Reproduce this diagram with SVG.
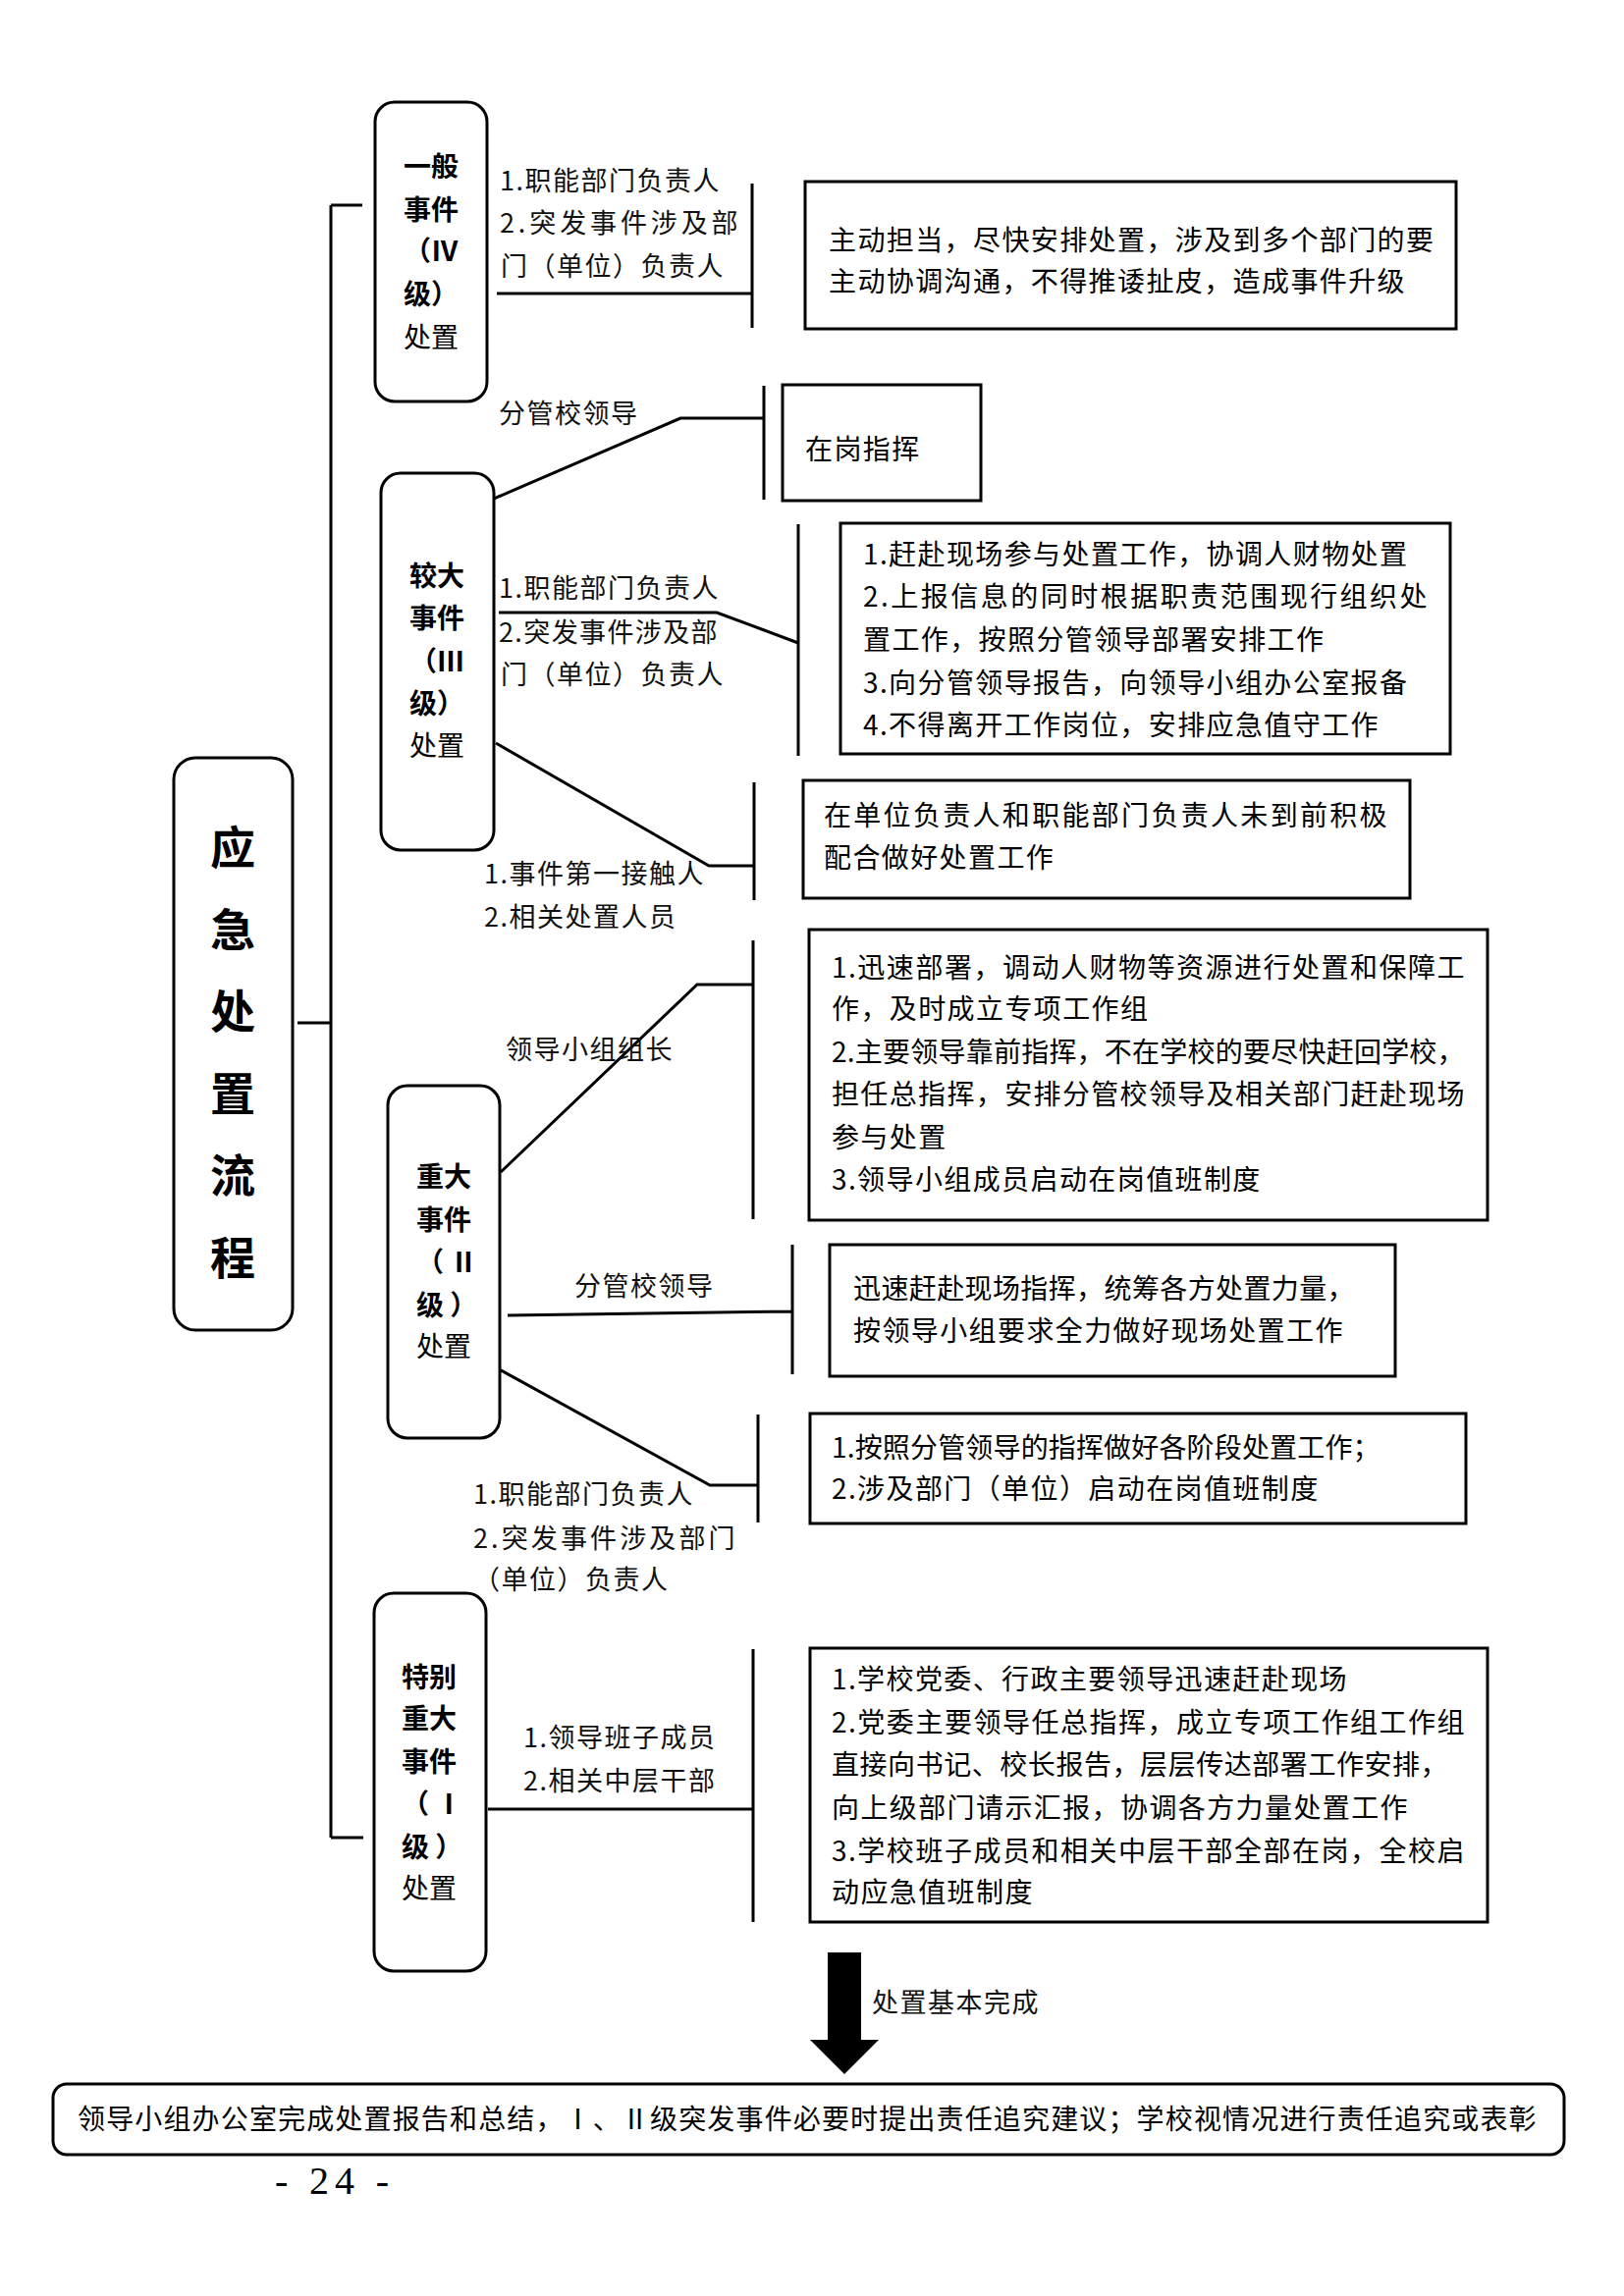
<svg xmlns="http://www.w3.org/2000/svg" width="1654" height="2339" viewBox="0 0 1654 2339">
<style>
.box{fill:#fff;stroke:#000;stroke-width:3}
.ln{fill:none;stroke:#000;stroke-width:3}
.t{font-family:"Noto Sans CJK SC","Liberation Sans",sans-serif;font-size:28px;letter-spacing:1.4px;fill:#000}
.lb{font-family:"Noto Sans CJK SC","Liberation Sans",sans-serif;font-size:27px;letter-spacing:1.5px;fill:#111}
.ev{font-family:"Noto Sans CJK SC","Liberation Sans",sans-serif;font-size:28px;fill:#000}
.b{font-weight:bold}
.title{font-family:"Noto Sans CJK SC",sans-serif;font-size:46px;font-weight:bold;text-anchor:middle;fill:#000}
.pg{font-family:"Liberation Serif",serif;font-size:40px;fill:#000}
</style>
<rect width="1654" height="2339" fill="#fff"/>

<g id="connectors">
  <path class="ln" d="M337 209 V1872 M337 209 H369 M337 1872 H370 M303 1042 H337"/>
  <path class="ln" d="M506 299 H766 M766 187 V334"/>
  <path class="ln" d="M503 508 L693 426 H778 M778 393 V509"/>
  <path class="ln" d="M508 624 H730 L813 655 M813 534 V770"/>
  <path class="ln" d="M505 757 L722 882 H768 M768 797 V917"/>
  <path class="ln" d="M510 1194 L710 1003 H767 M767 958 V1242"/>
  <path class="ln" d="M517 1340 L807 1336 M807 1268 V1400"/>
  <path class="ln" d="M503 1392 L723 1513 H772 M772 1441 V1551"/>
  <path class="ln" d="M497 1843 H767 M767 1680 V1958"/>
  <polygon points="843,1989 877,1989 877,2078 895,2078 860,2113 825,2078 843,2078" fill="#000"/>
  <g id="labels">
    <text class="lb" x="509" y="194">1.职能部门负责人</text>
    <text class="lb" x="509" y="237" textLength="244" lengthAdjust="spacing">2.突发事件涉及部</text>
    <text class="lb" x="510" y="281">门（单位）负责人</text>
    <text class="lb" x="508" y="431">分管校领导</text>
    <text class="lb" x="508" y="609">1.职能部门负责人</text>
    <text class="lb" x="508" y="654" textLength="224" lengthAdjust="spacing">2.突发事件涉及部</text>
    <text class="lb" x="510" y="697">门（单位）负责人</text>
    <text class="lb" x="493" y="900">1.事件第一接触人</text>
    <text class="lb" x="493" y="944">2.相关处置人员</text>
    <text class="lb" x="515" y="1079">领导小组组长</text>
    <text class="lb" x="585" y="1320">分管校领导</text>
    <text class="lb" x="482" y="1532">1.职能部门负责人</text>
    <text class="lb" x="482" y="1577" textLength="268" lengthAdjust="spacing">2.突发事件涉及部门</text>
    <text class="lb" x="482" y="1619">（单位）负责人</text>
    <text class="lb" x="533" y="1780">1.领导班子成员</text>
    <text class="lb" x="533" y="1824">2.相关中层干部</text>
    <text class="lb" x="888" y="2050">处置基本完成</text>
  </g>
</g>

<g id="title">
  <rect class="box" x="177" y="772" width="121" height="583" rx="22"/>
  <text class="title" x="237" y="880">应</text>
  <text class="title" x="237" y="964">急</text>
  <text class="title" x="237" y="1047">处</text>
  <text class="title" x="237" y="1131">置</text>
  <text class="title" x="237" y="1214">流</text>
  <text class="title" x="237" y="1298">程</text>
</g>

<g id="ev4">
  <rect class="box" x="382" y="104" width="114" height="305" rx="20"/>
  <text class="ev b" x="411" y="180">一般</text>
  <text class="ev b" x="411" y="224">事件</text>
  <text class="ev b" x="411" y="266">（Ⅳ</text>
  <text class="ev b" x="411" y="310">级）</text>
  <text class="ev" x="411" y="354">处置</text>
</g>
<g id="ev3">
  <rect class="box" x="388" y="482" width="115" height="384" rx="20"/>
  <text class="ev b" x="417" y="597">较大</text>
  <text class="ev b" x="417" y="640">事件</text>
  <text class="ev b" x="417" y="684">（Ⅲ</text>
  <text class="ev b" x="417" y="727">级）</text>
  <text class="ev" x="417" y="770">处置</text>
</g>
<g id="ev2">
  <rect class="box" x="395" y="1106" width="114" height="359" rx="20"/>
  <text class="ev b" x="424" y="1209">重大</text>
  <text class="ev b" x="424" y="1253">事件</text>
  <text class="ev b" x="424" y="1296">（ Ⅱ</text>
  <text class="ev b" x="424" y="1340">级 ）</text>
  <text class="ev" x="424" y="1382">处置</text>
</g>
<g id="ev1">
  <rect class="box" x="381" y="1623" width="114" height="385" rx="20"/>
  <text class="ev b" x="409" y="1719">特别</text>
  <text class="ev b" x="409" y="1761">重大</text>
  <text class="ev b" x="409" y="1805">事件</text>
  <text class="ev b" x="409" y="1848">（ Ⅰ</text>
  <text class="ev b" x="409" y="1892">级 ）</text>
  <text class="ev" x="409" y="1934">处置</text>
</g>

<g id="r4">
  <rect class="box" x="820" y="185" width="663" height="150"/>
  <text class="t" x="844" y="255">主动担当，尽快安排处置，涉及到多个部门的要</text>
  <text class="t" x="844" y="297">主动协调沟通，不得推诿扯皮，造成事件升级</text>
</g>
<g id="r3a">
  <rect class="box" x="797" y="392" width="202" height="118"/>
  <text class="t" x="820" y="468">在岗指挥</text>
</g>
<g id="r3b">
  <rect class="box" x="856" y="533" width="621" height="235"/>
  <text class="t" x="879" y="575">1.赶赴现场参与处置工作，协调人财物处置</text>
  <text class="t" x="879" y="618" textLength="576" lengthAdjust="spacing">2.上报信息的同时根据职责范围现行组织处</text>
  <text class="t" x="879" y="662">置工作，按照分管领导部署安排工作</text>
  <text class="t" x="879" y="706">3.向分管领导报告，向领导小组办公室报备</text>
  <text class="t" x="879" y="749">4.不得离开工作岗位，安排应急值守工作</text>
</g>
<g id="r3c">
  <rect class="box" x="818" y="795" width="618" height="120"/>
  <text class="t" x="839" y="841" textLength="575" lengthAdjust="spacing">在单位负责人和职能部门负责人未到前积极</text>
  <text class="t" x="839" y="884">配合做好处置工作</text>
</g>
<g id="r2a">
  <rect class="box" x="824" y="947" width="691" height="296"/>
  <text class="t" x="847" y="996" textLength="646" lengthAdjust="spacing">1.迅速部署，调动人财物等资源进行处置和保障工</text>
  <text class="t" x="847" y="1038">作，及时成立专项工作组</text>
  <text class="t" x="847" y="1082" textLength="646" lengthAdjust="spacing">2.主要领导靠前指挥，不在学校的要尽快赶回学校，</text>
  <text class="t" x="847" y="1125" textLength="646" lengthAdjust="spacing">担任总指挥，安排分管校领导及相关部门赶赴现场</text>
  <text class="t" x="847" y="1169">参与处置</text>
  <text class="t" x="847" y="1212">3.领导小组成员启动在岗值班制度</text>
</g>
<g id="r2b">
  <rect class="box" x="845" y="1268" width="576" height="134"/>
  <text class="t" x="869" y="1323" textLength="512" lengthAdjust="spacing">迅速赶赴现场指挥，统筹各方处置力量，</text>
  <text class="t" x="869" y="1366">按领导小组要求全力做好现场处置工作</text>
</g>
<g id="r2c">
  <rect class="box" x="825" y="1440" width="668" height="112"/>
  <text class="t" x="847" y="1485" textLength="560" lengthAdjust="spacing">1.按照分管领导的指挥做好各阶段处置工作；</text>
  <text class="t" x="847" y="1527">2.涉及部门（单位）启动在岗值班制度</text>
</g>
<g id="r1">
  <rect class="box" x="825" y="1679" width="690" height="279"/>
  <text class="t" x="847" y="1721">1.学校党委、行政主要领导迅速赶赴现场</text>
  <text class="t" x="847" y="1765" textLength="646" lengthAdjust="spacing">2.党委主要领导任总指挥，成立专项工作组工作组</text>
  <text class="t" x="847" y="1808" textLength="629" lengthAdjust="spacing">直接向书记、校长报告，层层传达部署工作安排，</text>
  <text class="t" x="847" y="1852">向上级部门请示汇报，协调各方力量处置工作</text>
  <text class="t" x="847" y="1896" textLength="646" lengthAdjust="spacing">3.学校班子成员和相关中层干部全部在岗，全校启</text>
  <text class="t" x="847" y="1938">动应急值班制度</text>
</g>
<g id="final">
  <rect class="box" x="54" y="2123" width="1539" height="72" rx="14"/>
  <text class="t" x="79" y="2169" textLength="1487" lengthAdjust="spacing">领导小组办公室完成处置报告和总结，Ⅰ、Ⅱ级突发事件必要时提出责任追究建议；学校视情况进行责任追究或表彰</text>
</g>
<text class="pg" x="280" y="2235" textLength="116" lengthAdjust="spacing">- 24 -</text>
</svg>
